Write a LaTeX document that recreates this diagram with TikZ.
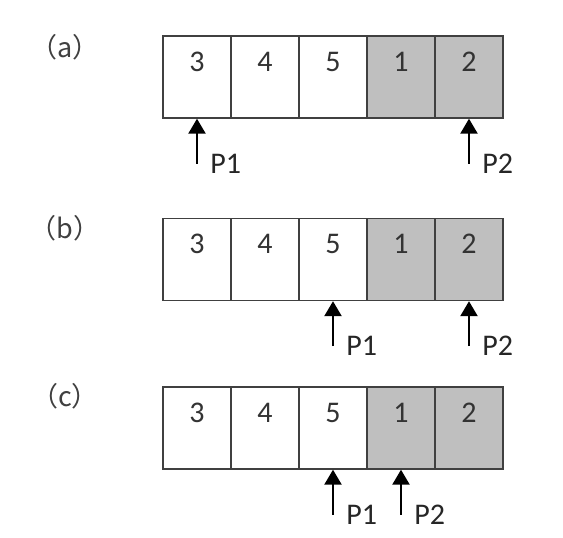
\documentclass[tikz,border=0pt]{standalone}
\usepackage{fontspec}
\setmainfont{Carlito}
\newfontfamily\cjk{Noto Sans CJK SC}
\usetikzlibrary{arrows.meta}

\begin{document}
\begin{tikzpicture}[
  x=0.5pt, y=-0.5pt,
  font=\fontsize{15}{17}\selectfont,
  cell/.style={draw=black!75, line width=0.7pt, fill=white, text=black!80,
               minimum width=34pt, minimum height=41pt, inner sep=0pt,
               text height=17.5pt, text depth=23.5pt},
  used/.style={cell, fill=black!25},
  ptr/.style={-{Triangle[length=7.5pt,width=8.5pt]}, line width=1.2pt},
  tag/.style={anchor=west, inner sep=0pt, text=black!85},
  rowlabel/.style={font=\cjk\fontsize{13.5}{16}\selectfont, text=black!75},
]
\useasboundingbox (0,0) rectangle (563,537);

% the three states of the buffer
\foreach \r/\y in {a/77, b/259.5, c/428}
  \foreach \v/\s [count=\k] in {3/cell, 4/cell, 5/cell, 1/used, 2/used}
    \node[\s] (\r\k) at (129+68*\k, \y) {\v};

\node[rowlabel] (la) at (65,47) {（a）};
\node[rowlabel] (lb) at (65,228) {（b）};
\node[rowlabel] (lc) at (65,396) {（c）};

% pointers
\coordinate (ta1) at ([yshift=-22.5pt]a1.south);
\coordinate (ta5) at ([yshift=-22.5pt]a5.south);
\coordinate (tb3) at ([yshift=-22.5pt]b3.south);
\coordinate (tb5) at ([yshift=-22.5pt]b5.south);
\coordinate (tc3) at ([yshift=-22.5pt]c3.south);
\coordinate (tc4) at ([yshift=-22.5pt]c4.south);

\draw[ptr] (ta1) -- (a1.south);
\draw[ptr] (ta5) -- (a5.south);
\draw[ptr] (tb3) -- (b3.south);
\draw[ptr] (tb5) -- (b5.south);
\draw[ptr] (tc3) -- (c3.south);
\draw[ptr] (tc4) -- (c4.south);

\node[tag] (pa1) at ([xshift=6.5pt]ta1) {P1};
\node[tag] (pa2) at ([xshift=6.5pt]ta5) {P2};
\node[tag] (pb1) at ([xshift=6.5pt]tb3) {P1};
\node[tag] (pb2) at ([xshift=6.5pt]tb5) {P2};
\node[tag] (pc1) at ([xshift=6.5pt]tc3) {P1};
\node[tag] (pc2) at ([xshift=6.5pt]tc4) {P2};

\end{tikzpicture}
\end{document}
